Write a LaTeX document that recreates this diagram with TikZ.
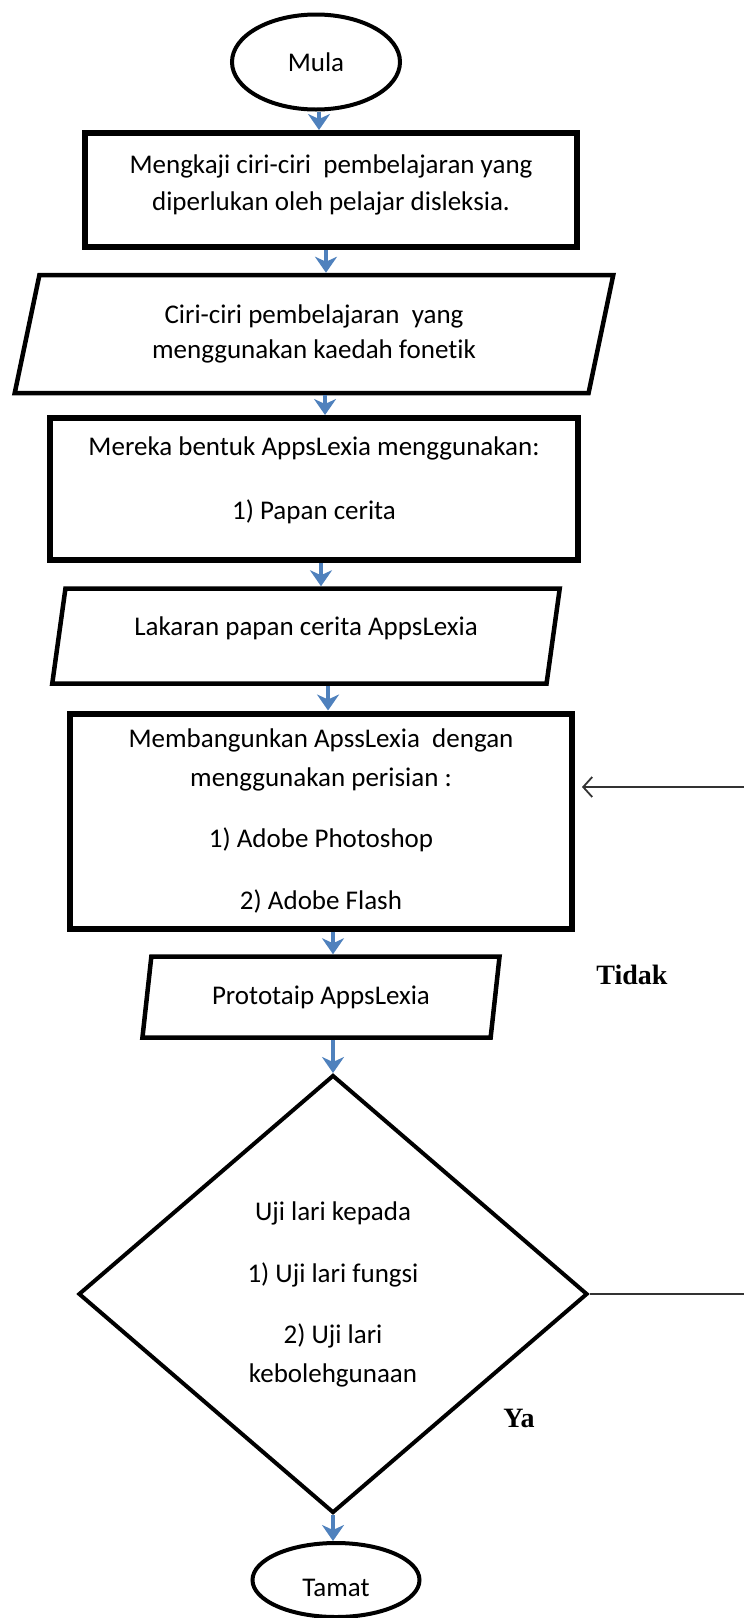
\documentclass[tikz,border=0pt]{standalone}
\usepackage{fontspec}
\setmainfont{Carlito}[Ligatures=NoCommon]
\newfontfamily\labelfont{Liberation Serif}
\usetikzlibrary{shapes.geometric,arrows.meta}
\definecolor{flowblue}{RGB}{79,129,189}

\begin{document}
\begin{tikzpicture}[x=1pt, y=-1pt,
    every node/.style={font=\fontsize{27}{33}\selectfont, align=center, inner sep=0pt},
    terminal/.style={draw, ellipse, line width=4pt},
    process/.style={draw, rectangle, line width=6pt},
    io/.style={draw, trapezium, trapezium left angle=76, trapezium right angle=104,
      trapezium stretches=true, line width=4.5pt},
    decision/.style={draw, diamond, line width=4pt},
    flow/.style={draw=flowblue, line width=4pt, -{Stealth[length=16pt,width=22pt,inset=5pt]}},
    back/.style={draw=black!80, line width=1.8pt},
    answer/.style={font=\labelfont\bfseries\fontsize{28}{34}\selectfont}]
  \useasboundingbox (0,0) rectangle (744,1618);

  \node[terminal, minimum width=168pt, minimum height=95pt] (mula) at (316,62) {Mula};
  \node[process, minimum width=492pt, minimum height=114pt, text depth=15pt] (kaji) at (331,190)
    {Mengkaji ciri-ciri~ pembelajaran yang\\[4pt]diperlukan oleh pelajar disleksia.};
  \node[io, minimum width=601pt, minimum height=118pt] (ciri) at (314,334)
    {Ciri-ciri pembelajaran~ yang\\[2pt]menggunakan kaedah fonetik};
  \node[process, minimum width=528pt, minimum height=142pt, text depth=22pt] (reka) at (314,489)
    {Mereka bentuk AppsLexia menggunakan:\\[31pt]1) Papan cerita};
  \node[io, minimum width=510pt, minimum height=95pt, text depth=19pt] (lakaran) at (306,636)
    {Lakaran papan cerita AppsLexia};
  \node[process, minimum width=502pt, minimum height=215pt] (build) at (321,821)
    {Membangunkan ApssLexia~ dengan\\[6pt]menggunakan perisian :\\[28pt]1) Adobe Photoshop\\[29pt]2) Adobe Flash};
  \node[io, minimum width=358pt, minimum height=81pt] (proto) at (321,997)
    {Prototaip AppsLexia};
  \node[decision, minimum width=509pt, minimum height=438pt] (uji) at (333,1294)
    {Uji lari kepada\\[29pt]1) Uji lari fungsi\\[28pt]2) Uji lari\\[6pt]kebolehgunaan};
  \node[terminal, minimum width=167pt, minimum height=74pt, text height=34pt] (tamat) at (336,1580) {Tamat};

  \node[answer] (tidak) at (632,975) {Tidak};
  \node[answer] (ya) at (519,1418) {Ya};

  % aliran utama
  \draw[flow] ([xshift=3pt]mula.south) -- ([xshift=3pt]mula.south |- kaji.north);
  \draw[flow] ([xshift=-5pt]kaji.south) -- ([xshift=-5pt]kaji.south |- ciri.north);
  \draw[flow] ([xshift=11pt]ciri.south) -- ([xshift=11pt]ciri.south |- reka.north);
  \draw[flow] ([xshift=7pt]reka.south) -- ([xshift=7pt]reka.south |- lakaran.north);
  \draw[flow] ([xshift=22pt]lakaran.south) -- ([xshift=22pt]lakaran.south |- build.north);
  \draw[flow] ([xshift=12pt]build.south) -- ([xshift=12pt]build.south |- proto.north);
  \draw[flow] ([xshift=12pt]proto.south) -- ([xshift=12pt]proto.south |- uji.north);
  \draw[flow] (uji.south) -- (uji.south |- tamat.north);

  % gelung balik (Tidak)
  \coordinate (tr) at (760,787);
  \coordinate (br) at (760,1294);
  \draw[back, -{Straight Barb[length=9pt,width=20pt]}]
    (uji.east) -- (br) -- (tr) -- ([xshift=7pt]tr -| build.east);
\end{tikzpicture}
\end{document}
